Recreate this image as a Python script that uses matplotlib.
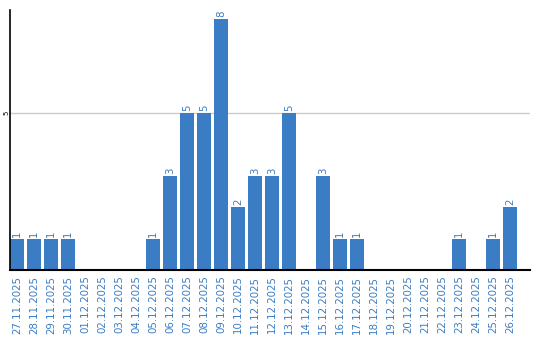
import matplotlib
matplotlib.use('Agg')
import matplotlib.pyplot as plt
import numpy as np

dates = ['27.11.2025', '28.11.2025', '29.11.2025', '30.11.2025', '01.12.2025',
         '02.12.2025', '03.12.2025', '04.12.2025', '05.12.2025', '06.12.2025',
         '07.12.2025', '08.12.2025', '09.12.2025', '10.12.2025', '11.12.2025',
         '12.12.2025', '13.12.2025', '14.12.2025', '15.12.2025', '16.12.2025',
         '17.12.2025', '18.12.2025', '19.12.2025', '20.12.2025', '21.12.2025',
         '22.12.2025', '23.12.2025', '24.12.2025', '25.12.2025', '26.12.2025']
counts = [1, 1, 1, 1, 0, 0, 0, 0, 1, 3, 5, 5, 8, 2, 3, 3, 5, 0, 3, 1,
          1, 0, 0, 0, 0, 0, 1, 0, 1, 2]

blue = '#3b7dc4'

fig = plt.figure(figsize=(5.4, 3.4), dpi=100)
ax = fig.add_axes([10/540, 70/340, 520/540, 260/340])

x = np.arange(len(dates))
w = 14/17
ax.bar(x, counts, w, color=blue, zorder=2)

# value labels above the non-empty bars
for xi, c in zip(x, counts):
    if c > 0:
        ax.text(xi, c + 0.06, str(c), rotation=90, ha='center', va='bottom',
                color=blue, fontsize=7.4)

ax.set_xlim(-w/2, -w/2 + 520/17)
ax.set_ylim(0, 260/31.4)
ax.set_yticks([5])
ax.set_yticklabels(['5'], rotation=90, va='center', fontsize=5)
ax.yaxis.grid(True, color='#cccccc', linewidth=1, zorder=0)
ax.tick_params(axis='y', length=0, pad=0.5)
ax.set_xticks(x)
ax.set_xticklabels(dates, rotation=90, color=blue, fontsize=7.4)
ax.tick_params(axis='x', length=0, pad=4)

for s in ['top', 'right']:
    ax.spines[s].set_visible(False)
ax.spines['left'].set_linewidth(1.2)
ax.spines['bottom'].set_linewidth(1.5)

plt.savefig('out.png', dpi=100)
